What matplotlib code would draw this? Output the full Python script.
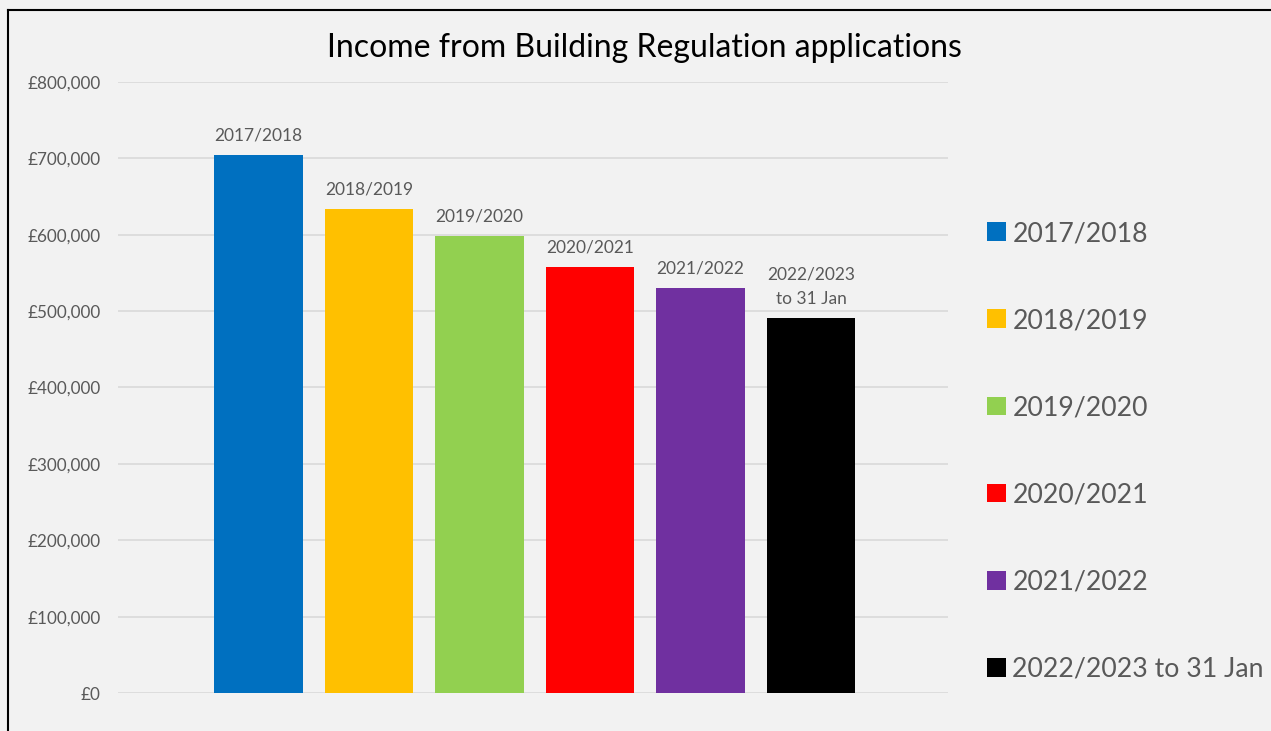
import matplotlib.pyplot as plt
from matplotlib.patches import Patch
from matplotlib.lines import Line2D
from matplotlib.ticker import FuncFormatter

# Income per year
years = ['2017/2018', '2018/2019', '2019/2020', '2020/2021', '2021/2022', '2022/2023 to 31 Jan']
bar_labels = ['2017/2018', '2018/2019', '2019/2020', '2020/2021', '2021/2022', '2022/2023\nto 31 Jan']
income = [705000, 634000, 599000, 558000, 530000, 491000]
colours = ['#0070c0', '#ffc000', '#92d050', '#ff0000', '#7030a0', '#000000']

plt.rcParams['font.family'] = ['Lato', 'DejaVu Sans']
grey = '#595959'
bg = '#f2f2f2'

fig = plt.figure(figsize=(12.71, 7.31), dpi=100, facecolor=bg)
ax = fig.add_axes([118/1271, 1-693/731, (948-118)/1271, (693-82)/731])
ax.set_facecolor(bg)

x = list(range(len(years)))
bars = ax.bar(x, income, width=0.8, color=colours, zorder=3)
for xi, v, lab in zip(x, income, bar_labels):
    ax.text(xi, v + 15000, lab, ha='center', va='bottom', fontsize=12.5,
            color=grey, linespacing=1.6)

ax.set_xlim(-1.27, 6.24)
ax.set_ylim(0, 800000)
ax.set_yticks(range(0, 800001, 100000))
ax.yaxis.set_major_formatter(FuncFormatter(lambda v, p: '£{:,.0f}'.format(v)))
ax.tick_params(axis='y', length=0, pad=12.7, labelsize=12.3, labelcolor=grey)
ax.set_xticks([])
ax.grid(axis='y', color='#d9d9d9', linewidth=1.2, zorder=0)
for s in ax.spines.values():
    s.set_visible(False)

fig.text(644/1271, 1-48/731, 'Income from Building Regulation applications',
         ha='center', va='center', fontsize=23, color='#000000')

handles = [Patch(facecolor=c, edgecolor='none') for c in colours]
leg = fig.legend(handles, years, loc='upper left', bbox_to_anchor=(963/1271, 1-197/731),
                 frameon=False, fontsize=19.2, labelcolor=grey, handlelength=0.7,
                 handleheight=0.7, handletextpad=0.25, labelspacing=2.33)

# chart border
fig.add_artist(Line2D([8/1271, 8/1271], [0, 1-10/731], color='black', linewidth=1.5))
fig.add_artist(Line2D([8/1271, 1], [1-10/731, 1-10/731], color='black', linewidth=1.5))

fig.savefig('out.png', dpi=100, facecolor=bg)
